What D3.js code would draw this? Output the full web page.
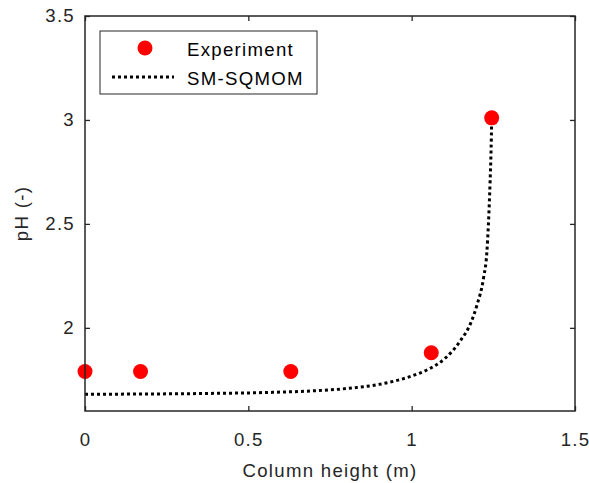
<!DOCTYPE html>
<html>
<head>
<meta charset="utf-8">
<script src="https://cdn.jsdelivr.net/npm/d3@7"></script>
<style>
  html, body { margin: 0; padding: 0; background: #fff; }
  svg { display: block; font-family: Arial, "Liberation Sans", Helvetica, sans-serif; }
</style>
</head>
<body>
<svg id="chart" width="589" height="483"></svg>
<script>
// Measured pH along the column
const expHeight = [0, 0.17, 0.63, 1.06, 1.245];
const expPH = [1.79, 1.79, 1.79, 1.88, 3.01];

// SM-SQMOM model prediction
const simHeight = [0, 0.1, 0.2, 0.3, 0.4, 0.5, 0.6, 0.7, 0.8, 0.9, 0.95, 1.0, 1.05, 1.1, 1.15, 1.18, 1.2, 1.22, 1.23, 1.235, 1.24, 1.243, 1.245];
const simPH = [1.680, 1.681, 1.682, 1.683, 1.685, 1.687, 1.691, 1.697, 1.708, 1.728, 1.745, 1.768, 1.80, 1.85, 1.94, 2.02, 2.11, 2.24, 2.36, 2.50, 2.70, 2.85, 3.0];

const xTicks = [0, 0.5, 1, 1.5];
const yTicks = [2, 2.5, 3, 3.5];
const seriesNames = ["Experiment", "SM-SQMOM"];

const svg = d3.select("#chart");
const m = { left: 85, right: 575, top: 16, bottom: 411 };
const axisColor = "#262626";
const fontSize = 18.6;
const spacing = 1.3;

const x = d3.scaleLinear().domain([0, 1.5]).range([m.left, m.right]);
const y = d3.scaleLinear().domain([1.6, 3.5]).range([m.bottom, m.top]);

// Model curve
const line = d3.line().x((d, i) => x(simHeight[i])).y(d => y(d)).curve(d3.curveMonotoneX);
svg.append("path")
  .datum(simPH)
  .attr("d", line)
  .attr("fill", "none")
  .attr("stroke", "#000")
  .attr("stroke-width", 3)
  .attr("stroke-dasharray", "3,3");

// Experimental points
svg.append("g").selectAll("circle")
  .data(expPH)
  .join("circle")
  .attr("cx", (d, i) => x(expHeight[i]))
  .attr("cy", d => y(d))
  .attr("r", 7.5)
  .attr("fill", "#ff0000");

// Axes with inward ticks on all sides
function styleAxis(g) {
  g.select(".domain").remove();
  g.selectAll(".tick line").attr("stroke", axisColor).attr("stroke-width", 1.3);
  g.selectAll(".tick text")
    .attr("fill", axisColor)
    .attr("font-size", fontSize)
    .attr("letter-spacing", spacing)
    .attr("font-family", "Arial, 'Liberation Sans', sans-serif");
}
const fmt = d3.format("~g");
svg.append("g").attr("transform", `translate(0,${m.bottom})`)
  .call(d3.axisBottom(x).tickValues(xTicks).tickFormat(fmt).tickSizeInner(-5).tickSizeOuter(0).tickPadding(22))
  .call(styleAxis);
svg.append("g").attr("transform", `translate(0,${m.top})`)
  .call(d3.axisTop(x).tickValues(xTicks).tickFormat("").tickSizeInner(-5).tickSizeOuter(0))
  .call(styleAxis);
svg.append("g").attr("transform", `translate(${m.left},0)`)
  .call(d3.axisLeft(y).tickValues(yTicks).tickFormat(fmt).tickSizeInner(-5).tickSizeOuter(0).tickPadding(10))
  .call(styleAxis);
svg.append("g").attr("transform", `translate(${m.right},0)`)
  .call(d3.axisRight(y).tickValues(yTicks).tickFormat("").tickSizeInner(-5).tickSizeOuter(0))
  .call(styleAxis);

// Frame
svg.append("rect")
  .attr("x", m.left).attr("y", m.top)
  .attr("width", m.right - m.left).attr("height", m.bottom - m.top)
  .attr("fill", "none").attr("stroke", axisColor).attr("stroke-width", 1.5);

// Axis titles
svg.append("text")
  .attr("x", (m.left + m.right) / 2).attr("y", 477)
  .attr("text-anchor", "middle").attr("font-size", fontSize)
  .attr("letter-spacing", spacing).attr("fill", axisColor)
  .text("Column height (m)");
svg.append("text")
  .attr("transform", `translate(28,${(m.top + m.bottom) / 2}) rotate(-90)`)
  .attr("text-anchor", "middle").attr("font-size", fontSize)
  .attr("letter-spacing", spacing).attr("fill", axisColor)
  .text("pH (-)");

// Legend
const lg = svg.append("g");
lg.append("rect").attr("x", 100).attr("y", 31).attr("width", 217).attr("height", 63)
  .attr("fill", "#fff").attr("stroke", axisColor).attr("stroke-width", 1);
lg.append("circle").attr("cx", 145).attr("cy", 48).attr("r", 7.5).attr("fill", "#ff0000");
lg.append("line").attr("x1", 112).attr("x2", 174).attr("y1", 77).attr("y2", 77)
  .attr("stroke", "#000").attr("stroke-width", 3).attr("stroke-dasharray", "3,3");
lg.selectAll("text.lab").data(seriesNames).join("text")
  .attr("class", "lab")
  .attr("x", 187).attr("y", (d, i) => 56 + i * 29)
  .attr("font-size", fontSize).attr("letter-spacing", spacing).attr("fill", "#000")
  .text(d => d);
</script>
</body>
</html>
